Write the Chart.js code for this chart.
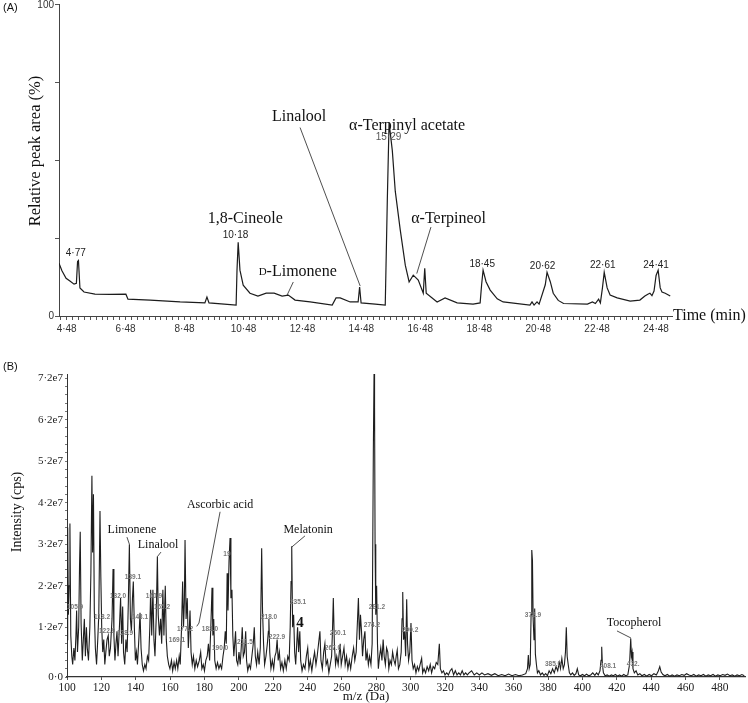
<!DOCTYPE html>
<html>
<head>
<meta charset="utf-8">
<script src="https://cdn.jsdelivr.net/npm/chart.js@4.4.0/dist/chart.umd.min.js"></script>
<style>
  body { margin: 0; background: #fff; width: 748px; height: 703px; position: relative; overflow: hidden; }
  canvas { position: absolute; left: 0; }
  #gc { top: 0; }
  #ms { top: 340px; }
</style>
</head>
<body>
<canvas id="gc" width="748" height="340"></canvas>
<canvas id="ms" width="748" height="363"></canvas>
<script>
// (A) chromatogram: retention time (min) / relative peak area (%)
const gcTime = [4.22, 4.32, 4.46, 4.59, 4.73, 4.81, 4.85, 4.88, 4.93, 5.07,
  5.44, 5.95, 6.49, 6.56, 7.31, 8.33, 9.17, 9.24, 9.31, 10.23,
  10.26, 10.30, 10.36, 10.47, 10.70, 10.97, 11.25, 11.52, 11.79, 12.00,
  12.23, 12.74, 13.49, 13.62, 13.76, 14.10, 14.37, 14.42, 14.47, 14.95,
  15.29, 15.36, 15.42, 15.53, 15.63, 15.80, 15.97, 16.10, 16.24, 16.41,
  16.58, 16.63, 16.68, 17.05, 17.32, 17.73, 18.27, 18.51, 18.56, 18.61,
  18.71, 18.85, 19.09, 19.29, 20.20, 20.27, 20.34, 20.44, 20.51, 20.72,
  20.78, 20.89, 20.99, 21.16, 21.34, 22.15, 22.32, 22.42, 22.53, 22.59,
  22.66, 22.72, 22.82, 22.92, 23.16, 23.60, 23.93, 24.10, 24.20, 24.27,
  24.34, 24.41, 24.48, 24.55, 24.62, 24.68, 24.79, 24.96];
const gcArea = [16.9, 14.5, 12.1, 11.2, 10.2, 10.5, 17.5, 17.8, 9.0, 7.7,
  7.0, 6.9, 7.0, 5.4, 5.1, 4.5, 4.2, 6.1, 4.2, 3.5,
  14.7, 23.6, 14.7, 9.9, 7.3, 6.4, 7.3, 7.3, 6.4, 6.7,
  5.1, 4.5, 3.5, 5.8, 5.8, 4.5, 4.5, 9.3, 4.2, 3.8,
  3.5, 37, 62, 53, 40, 27.5, 16.3, 10.9, 13.1, 11.5,
  7.3, 15.3, 7.3, 4.5, 5.8, 4.2, 3.8, 4.2, 10, 14.7,
  11, 8.3, 5.5, 4.5, 3.5, 4.5, 3.5, 4.5, 3.8, 10,
  14, 11, 7.3, 5.0, 4.0, 3.8, 4.5, 4.0, 5.4, 4.2,
  9, 14, 9, 6.7, 5.8, 4.8, 5.1, 6.4, 7.0, 7.3,
  6.5, 8, 13, 14.7, 9, 7.7, 7.3, 6.4];
const gcMajorTicks = [4.48, 6.48, 8.48, 10.48, 12.48, 14.48, 16.48, 18.48, 20.48, 22.48, 24.48];
const gcTickLabels = ['4·48', '6·48', '8·48', '10·48', '12·48', '14·48', '16·48', '18·48', '20·48', '22·48', '24·48'];
const gcYTicks = [0, 25, 50, 75, 100];
const gcYTickLabels = ['0', '', '', '', '100'];

// (B) mass spectrum: m/z (Da) / intensity (in units of 1e7 cps)
const msMz = [100, 100.4, 100.8, 101.3, 101.7, 102.2, 102.8, 103.3, 104.0, 104.6,
  105.2, 105.6, 106.1, 106.8, 107.3, 107.7, 108.2, 108.9, 109.5, 110.1,
  110.7, 111.3, 111.8, 112.5, 113.3, 113.9, 114.5, 114.9, 115.4, 115.9,
  116.5, 117.2, 117.9, 118.5, 119.2, 119.7, 120.2, 120.8, 121.4, 122.0,
  122.6, 123.3, 124.0, 124.6, 125.3, 126.2, 126.8, 127.3, 127.9, 128.5,
  129.1, 129.7, 130.5, 131.2, 131.8, 132.4, 132.9, 133.6, 134.3, 135.0,
  135.7, 136.3, 136.9, 137.5, 138.1, 138.6, 139.2, 139.8, 140.4, 141.0,
  141.8, 142.5, 143.1, 143.8, 144.5, 145.3, 146.0, 146.8, 147.5, 148.2,
  148.7, 149.3, 150.0, 150.6, 151.2, 151.9, 152.6, 153.1, 153.8, 154.5,
  155.1, 155.8, 156.4, 157.2, 157.8, 158.4, 159.2, 159.9, 160.8, 161.5,
  162.3, 163.0, 163.8, 164.5, 165.3, 165.9, 166.6, 167.3, 167.8, 168.3,
  168.7, 169.3, 170.0, 170.6, 171.2, 171.6, 172.2, 172.9, 173.6, 174.4,
  175.2, 176.0, 177.0, 177.8, 178.5, 179.3, 180.0, 180.8, 181.6, 182.3,
  183.0, 183.7, 184.4, 184.9, 185.4, 186.0, 186.8, 187.6, 188.4, 189.2,
  190.0, 190.8, 191.5, 192.1, 192.7, 193.2, 193.7, 194.3, 194.9, 195.4,
  196.0, 196.5, 197.1, 197.6, 198.1, 198.7, 199.4, 200.1, 200.8, 201.4,
  202.0, 202.6, 203.3, 204.0, 204.5, 205.2, 206.0, 206.8, 207.6, 208.4,
  209.0, 209.6, 210.3, 211.0, 211.8, 212.5, 213.3, 213.8, 214.4, 215.0,
  215.8, 216.6, 217.2, 217.5, 218.0, 218.7, 219.5, 220.3, 221.0, 221.7,
  222.3, 222.9, 223.6, 224.3, 225.1, 225.9, 226.8, 227.6, 228.5, 229.3,
  229.9, 230.4, 230.8, 231.3, 231.9, 232.5, 233.1, 233.7, 234.2, 234.8,
  235.5, 236.0, 236.8, 237.6, 238.5, 239.3, 240.1, 240.8, 241.6, 242.5,
  243.3, 244.1, 244.9, 245.6, 246.4, 247.2, 247.8, 248.6, 249.4, 250.1,
  250.8, 251.6, 252.4, 253.2, 254.0, 254.5, 255.0, 255.6, 256.3, 257.0,
  257.8, 258.5, 259.0, 259.6, 260.4, 261.2, 261.9, 262.7, 263.5, 264.3,
  265.1, 266.0, 266.8, 267.5, 268.3, 269.0, 269.6, 270.2, 270.8, 271.4,
  272.0, 272.7, 273.4, 274.0, 274.7, 275.4, 276.1, 276.9, 277.6, 278.3,
  278.7, 279.0, 279.3, 279.7, 280.2, 280.7, 281.2, 281.9, 282.6, 283.3,
  284.0, 284.6, 285.3, 286.0, 286.7, 287.3, 288.0, 288.8, 289.5, 290.3,
  291.0, 291.6, 292.2, 292.9, 293.7, 294.5, 295.0, 295.4, 295.9, 296.5,
  297.1, 297.7, 298.2, 298.8, 299.5, 300.2, 300.8, 301.5, 302.3, 303.1,
  303.9, 304.7, 305.5, 306.4, 307.0, 307.8, 308.7, 309.6, 310.5, 311.4,
  312.2, 313.1, 314.0, 314.9, 315.8, 316.7, 317.3, 318.2, 319.1, 320.0,
  321, 322, 323, 324, 325, 326, 327, 328, 329, 330,
  331, 332, 333, 334, 335.5, 337, 338.5, 340, 341.5, 343,
  345, 347, 349, 351, 353, 355, 357, 359, 361, 363,
  365, 367, 368, 368.5, 369, 369.6, 370.1, 370.5, 370.9, 371.3,
  371.8, 372.2, 372.6, 373.2, 373.8, 374.6, 375.6, 376.6, 377.6, 378.6,
  379.6, 380.6, 381.6, 382.6, 383.6, 384.6, 385.6, 386.5, 387.2, 388.0,
  388.8, 389.5, 390.1, 390.6, 391.1, 391.7, 392.4, 393.2, 394.2, 395.2,
  396.2, 397.0, 397.8, 398.8, 400.0, 401.2, 402.4, 403.6, 404.8, 406.0,
  407.2, 408.2, 409.2, 410.2, 410.8, 411.2, 411.6, 412.2, 413.2, 414.4,
  415.6, 416.8, 418.0, 419.2, 420.4, 421.6, 422.8, 424.0, 425.2, 426.4,
  427.4, 428.1, 428.5, 428.9, 429.4, 430.2, 431.2, 432.2, 433.4, 434.6,
  436.0, 437.4, 438.8, 440.2, 441.6, 443.0, 444.2, 445.0, 445.8, 446.8,
  448.0, 449.4, 450.8, 452.2, 453.6, 455.0, 456.4, 457.8, 459.2, 460.6,
  462.0, 463.4, 464.8, 466.2, 467.6, 469.0, 470.4, 471.8, 473.2, 474.6,
  476.0, 477.4, 478.8, 480.2, 481.6, 483.0, 484.4, 485.8, 487.2, 488.6,
  490.0, 491.4, 492.8, 494.2];
const msIntensity = [0.9, 3.6, 1.5, 2.2, 3.7, 1.0, 0.5, 0.3, 0.7, 0.4,
  1.0, 1.6, 0.6, 1.2, 2.7, 3.5, 1.3, 0.4, 0.9, 1.4,
  0.5, 1.2, 0.7, 0.4, 1.2, 2.5, 4.85, 3.0, 4.4, 1.6,
  0.7, 0.3, 0.9, 1.5, 4.0, 2.4, 1.2, 0.6, 0.9, 0.3,
  0.6, 0.9, 1.0, 0.5, 0.7, 1.4, 2.6, 1.0, 0.4, 0.8,
  1.1, 0.5, 1.2, 1.9, 0.8, 1.7, 0.6, 0.3, 0.9, 0.6,
  1.8, 3.2, 1.4, 1.1, 1.9, 2.3, 1.2, 0.4, 0.6, 0.3,
  0.9, 1.55, 0.7, 0.3, 0.15, 0.3, 0.2, 0.5, 0.4, 1.2,
  2.1, 1.0, 2.1, 0.9, 0.5, 1.4, 2.9, 1.5, 1.0, 1.4,
  0.8, 2.1, 1.0, 2.2, 0.9, 0.5, 0.3, 0.2, 0.4, 0.15,
  0.35, 0.2, 0.4, 0.2, 0.5, 0.3, 1.1, 2.3, 1.2, 1.8,
  3.3, 1.4, 1.9, 0.7, 1.2, 1.6, 0.6, 0.3, 0.5, 0.2,
  0.4, 0.25, 0.4, 0.6, 0.2, 0.3, 0.15, 0.4, 0.5, 0.8,
  0.4, 1.2, 2.15, 1.0, 1.4, 0.4, 0.2, 0.35, 0.2, 0.3,
  0.2, 0.5, 0.7, 1.1, 0.8, 2.5, 1.6, 2.8, 3.35, 1.9,
  2.1, 1.0, 0.5, 0.8, 1.1, 0.4, 0.3, 0.6, 0.3, 0.7,
  1.2, 0.5, 0.6, 1.1, 0.4, 0.15, 0.3, 0.2, 0.5, 0.8,
  1.2, 0.5, 0.3, 0.6, 0.3, 0.7, 3.1, 1.6, 0.8, 0.3,
  0.5, 0.8, 1.1, 1.4, 0.6, 0.2, 0.4, 0.2, 0.5, 0.6,
  0.9, 0.4, 0.6, 0.2, 0.35, 0.15, 0.4, 0.2, 0.5, 0.4,
  1.2, 2.3, 3.15, 1.2, 1.5, 0.6, 0.3, 0.8, 1.2, 0.6,
  1.1, 0.4, 0.15, 0.3, 0.2, 0.5, 0.7, 0.2, 0.4, 0.15,
  0.4, 0.6, 0.3, 0.5, 0.8, 1.1, 0.4, 0.2, 0.6, 0.8,
  0.3, 0.4, 0.1, 0.3, 0.5, 1.1, 1.9, 0.8, 0.3, 0.5,
  0.3, 0.6, 0.8, 0.3, 0.5, 0.7, 0.3, 0.5, 0.2, 0.4,
  0.2, 0.5, 0.7, 0.4, 0.6, 1.3, 1.9, 0.9, 1.5, 1.1,
  0.5, 0.9, 1.1, 0.4, 0.6, 0.3, 0.5, 0.3, 0.8, 5.5,
  7.3, 6.5, 3.2, 1.5, 2.2, 0.8, 0.2, 0.5, 0.7, 0.4,
  0.9, 0.5, 0.3, 0.7, 0.6, 0.2, 0.4, 0.3, 0.6, 0.4,
  0.3, 0.5, 0.65, 0.2, 0.3, 0.6, 1.4, 2.05, 0.9, 1.1,
  0.5, 1.87, 0.8, 0.4, 0.6, 1.3, 0.4, 0.2, 0.3, 0.1,
  0.25, 0.15, 0.3, 0.45, 0.1, 0.2, 0.1, 0.25, 0.15, 0.3,
  0.1, 0.25, 0.2, 0.35, 0.3, 0.8, 0.2, 0.1, 0.15, 0.05,
  0.1, 0.05, 0.15, 0.2, 0.05, 0.15, 0.05, 0.1, 0.05, 0.15,
  0.05, 0.1, 0.05, 0.1, 0.15, 0.05, 0.1, 0.05, 0.1, 0.05,
  0.08, 0.04, 0.08, 0.03, 0.06, 0.03, 0.07, 0.03, 0.06, 0.03,
  0.05, 0.08, 0.2, 0.53, 0.2, 0.3, 1.5, 3.06, 2.8, 1.4,
  0.9, 1.65, 0.55, 0.3, 0.1, 0.15, 0.05, 0.1, 0.04, 0.08,
  0.03, 0.15, 0.08, 0.2, 0.1, 0.25, 0.15, 0.35, 0.2, 0.45,
  0.2, 0.3, 0.6, 1.2, 0.5, 0.3, 0.1, 0.05, 0.1, 0.04,
  0.08, 0.2, 0.05, 0.03, 0.06, 0.03, 0.07, 0.03, 0.05, 0.1,
  0.04, 0.1, 0.05, 0.15, 0.4, 0.73, 0.3, 0.1, 0.03, 0.05,
  0.02, 0.05, 0.03, 0.06, 0.02, 0.05, 0.02, 0.06, 0.03, 0.05,
  0.3, 0.93, 0.5, 0.6, 0.2, 0.1, 0.15, 0.05, 0.08, 0.03,
  0.06, 0.02, 0.06, 0.03, 0.08, 0.05, 0.15, 0.25, 0.12, 0.06,
  0.03, 0.06, 0.02, 0.05, 0.02, 0.05, 0.03, 0.06, 0.04, 0.08,
  0.05, 0.03, 0.06, 0.02, 0.05, 0.03, 0.06, 0.02, 0.05, 0.03,
  0.06, 0.02, 0.05, 0.03, 0.06, 0.04, 0.07, 0.03, 0.05, 0.02,
  0.05, 0.03, 0.06, 0.03];
const msXTicks = [100, 120, 140, 160, 180, 200, 220, 240, 260, 280, 300, 320, 340, 360, 380, 400, 420, 440, 460, 480];
const msYLabelValues = [0, 1.2, 2.2, 3.2, 4.2, 5.2, 6.2, 7.2];
const msYTickLabels = ['0·0', '1·2e7', '2·2e7', '3·2e7', '4·2e7', '5·2e7', '6·2e7', '7·2e7'];

const SANS = '"Liberation Sans", Arial, sans-serif';
const SERIF = '"Liberation Serif", "Times New Roman", serif';

// minor tick positions (every 0.2 min / 0.2e7)
const gcMinor = [];
for (let i = -1; 4.48 + i * 0.2 < 25.02; i++) gcMinor.push(+(4.48 + i * 0.2).toFixed(2));
const msYMinor = [];
for (let i = 0; i <= 36; i++) msYMinor.push(i / 5);

function labelOf(values, labels, v) {
  const i = values.findIndex(m => Math.abs(m - v) < 1e-6);
  return i < 0 ? '' : labels[i];
}

// draws callouts, leader lines and free text
const notesPlugin = {
  id: 'notes',
  afterDraw(chart, args, opts) {
    const ctx = chart.ctx, xs = chart.scales.x, ys = chart.scales.y;
    ctx.save();
    ctx.strokeStyle = '#222';
    ctx.lineWidth = 0.8;
    (opts.leaders || []).forEach(p => {
      ctx.beginPath();
      for (let i = 0; i < p.length; i += 2) {
        const px = xs.getPixelForValue(p[i]), py = ys.getPixelForValue(p[i + 1]);
        if (i) ctx.lineTo(px, py); else ctx.moveTo(px, py);
      }
      ctx.stroke();
    });
    ctx.textBaseline = 'middle';
    ctx.textAlign = 'left';
    (opts.labels || []).forEach(n => {
      const px = n.px != null ? n.px : xs.getPixelForValue(n.x);
      const py = n.py != null ? n.py : ys.getPixelForValue(n.y);
      const parts = n.parts || [[n.text, n.font]];
      ctx.save();
      ctx.fillStyle = n.color || '#111';
      ctx.translate(px, py);
      if (n.rotate) ctx.rotate(n.rotate);
      let w = 0;
      parts.forEach(pt => { ctx.font = pt[1]; w += ctx.measureText(pt[0]).width; });
      let x0 = n.align === 'left' ? 0 : (n.align === 'right' ? -w : -w / 2);
      parts.forEach(pt => { ctx.font = pt[1]; ctx.fillText(pt[0], x0, 0); x0 += ctx.measureText(pt[0]).width; });
      ctx.restore();
    });
    ctx.restore();
  }
};

const s10 = '10px ' + SANS, f16 = '16px ' + SERIF, f12 = '12px ' + SERIF, tiny = 'bold 6.5px ' + SANS;

new Chart(document.getElementById('gc'), {
  type: 'line',
  data: {
    datasets: [{
      data: gcTime.map((t, i) => ({ x: t, y: gcArea[i] })),
      borderColor: '#1c1c1c', borderWidth: 1.2, pointRadius: 0, tension: 0, fill: false
    }]
  },
  options: {
    responsive: false, animation: false, devicePixelRatio: 1,
    layout: { padding: { left: 0, right: 76, top: 4, bottom: 0 } },
    plugins: {
      legend: { display: false }, tooltip: { enabled: false },
      notes: {
        leaders: [[12.40, 60.4, 14.44, 9.6], [12.17, 10.9, 11.96, 6.7], [16.84, 28.5, 16.36, 13.6]],
        labels: [
          { px: 3, py: 8, text: '(A)', font: '11px ' + SANS, align: 'left' },
          { px: 54, py: 5, text: '100', font: s10, color: '#333', align: 'right' },
          { px: 36, py: 151, text: 'Relative peak area (%)', font: '16.5px ' + SERIF, rotate: -Math.PI / 2 },
          { px: 673, py: 316, text: 'Time (min)', font: f16, align: 'left' },
          { x: 4.79, y: 20.1, text: '4·77', font: s10, color: '#222' },
          { x: 10.54, y: 31.3, text: '1,8-Cineole', font: f16 },
          { x: 10.21, y: 25.9, text: '10·18', font: s10, color: '#222' },
          { x: 12.37, y: 63.9, text: 'Linalool', font: f16 },
          { x: 12.32, y: 14.1, parts: [['D', '11px ' + SERIF], ['-Limonene', f16]] },
          { x: 16.03, y: 61.0, text: 'α-Terpinyl acetate', font: f16 },
          { x: 15.40, y: 57.2, text: '15·29', font: s10, color: '#555' },
          { x: 17.44, y: 31.3, text: 'α-Terpineol', font: f16 },
          { x: 18.58, y: 16.6, text: '18·45', font: s10, color: '#222' },
          { x: 20.63, y: 15.8, text: '20·62', font: s10, color: '#222' },
          { x: 22.67, y: 16.3, text: '22·61', font: s10, color: '#222' },
          { x: 24.48, y: 16.3, text: '24·41', font: s10, color: '#222' }
        ]
      }
    },
    scales: {
      x: {
        type: 'linear', min: 4.22, max: 25.02,
        afterBuildTicks: s => { s.ticks = gcMinor.map(v => ({ value: v })); },
        afterFit: s => { s.height = 24; s.paddingLeft = 0; s.paddingRight = 0; },
        ticks: {
          autoSkip: false, maxRotation: 0, padding: 3, color: '#333',
          font: { family: SANS, size: 10 },
          callback: v => labelOf(gcMajorTicks, gcTickLabels, v)
        },
        grid: { drawOnChartArea: false, tickLength: 4, color: '#555' },
        border: { color: '#444', width: 1 }
      },
      y: {
        min: 0, max: 100,
        afterBuildTicks: s => { s.ticks = gcYTicks.map(v => ({ value: v })); },
        afterFit: s => { s.width = 59; s.paddingTop = 0; s.paddingBottom = 0; },
        ticks: {
          autoSkip: false, padding: 1, color: '#333',
          font: { family: SANS, size: 10 },
          // the top label is drawn by the notes plugin so it is not clipped
          callback: v => (v === 100 ? '' : labelOf(gcYTicks, gcYTickLabels, v))
        },
        grid: { drawOnChartArea: false, tickLength: 4, color: '#555' },
        border: { color: '#444', width: 1 }
      }
    }
  },
  plugins: [notesPlugin]
});

new Chart(document.getElementById('ms'), {
  type: 'line',
  data: {
    datasets: [{
      data: msMz.map((m, i) => ({ x: m, y: msIntensity[i] })),
      borderColor: '#1e1e1e', borderWidth: 1.1, pointRadius: 0, tension: 0, fill: false
    }]
  },
  options: {
    responsive: false, animation: false, devicePixelRatio: 1,
    layout: { padding: { left: 0, right: 3, top: 34, bottom: 0 } },
    plugins: {
      legend: { display: false }, tooltip: { enabled: false },
      notes: {
        leaders: [[134.9, 3.37, 136.3, 3.2], [154.7, 3.01, 152.6, 2.9], [189.1, 3.98, 176.8, 1.3, 175.5, 1.22],
          [238.5, 3.40, 230.8, 3.13], [420.1, 1.11, 428.2, 0.94]],
        labels: [
          { px: 3, py: 27, text: '(B)', font: '11px ' + SANS, align: 'left' },
          { px: 17.5, py: 172, text: 'Intensity (cps)', font: '14px ' + SERIF, rotate: -Math.PI / 2 },
          { px: 366, py: 357, text: 'm/z (Da)', font: '13px ' + SERIF },
          { x: 137.8, y: 3.54, text: 'Limonene', font: f12 },
          { x: 153.0, y: 3.18, text: 'Linalool', font: f12 },
          { x: 189.1, y: 4.14, text: 'Ascorbic acid', font: f12 },
          { x: 240.3, y: 3.54, text: 'Melatonin', font: f12 },
          { x: 430.0, y: 1.30, text: 'Tocopherol', font: f12 },
          { x: 235.6, y: 1.30, text: '4', font: 'bold 15px ' + SERIF },
          { x: 104.7, y: 1.69, text: '105.9', font: tiny, color: '#777' },
          { x: 120.4, y: 1.45, text: '118.2', font: tiny, color: '#777' },
          { x: 123.3, y: 1.11, text: '122.9', font: tiny, color: '#777' },
          { x: 129.7, y: 1.95, text: '132.0', font: tiny, color: '#777' },
          { x: 133.8, y: 1.06, text: '128.9', font: tiny, color: '#777' },
          { x: 138.4, y: 2.41, text: '139.1', font: tiny, color: '#777' },
          { x: 142.5, y: 1.45, text: '143.1', font: tiny, color: '#777' },
          { x: 150.6, y: 1.95, text: '160.9', font: tiny, color: '#777' },
          { x: 155.3, y: 1.69, text: '165.2', font: tiny, color: '#777' },
          { x: 164.0, y: 0.89, text: '169.1', font: tiny, color: '#777' },
          { x: 168.7, y: 1.16, text: '177.2', font: tiny, color: '#777' },
          { x: 183.2, y: 1.16, text: '183.0', font: tiny, color: '#777' },
          { x: 189.1, y: 0.70, text: '190.0', font: tiny, color: '#777' },
          { x: 193.1, y: 2.96, text: '19', font: tiny, color: '#777' },
          { x: 203.6, y: 0.84, text: '211.5', font: tiny, color: '#777' },
          { x: 217.6, y: 1.45, text: '218.0', font: tiny, color: '#777' },
          { x: 222.2, y: 0.96, text: '222.9', font: tiny, color: '#777' },
          { x: 234.5, y: 1.81, text: '235.1', font: tiny, color: '#777' },
          { x: 257.7, y: 1.06, text: '260.1', font: tiny, color: '#777' },
          { x: 254.8, y: 0.70, text: '267.0', font: tiny, color: '#777' },
          { x: 277.5, y: 1.25, text: '274.2', font: tiny, color: '#777' },
          { x: 280.4, y: 1.69, text: '281.2', font: tiny, color: '#777' },
          { x: 299.7, y: 1.13, text: '290.2', font: tiny, color: '#777' },
          { x: 371.2, y: 1.49, text: '372.9', font: tiny, color: '#777' },
          { x: 382.9, y: 0.31, text: '385.0', font: tiny, color: '#777' },
          { x: 414.9, y: 0.27, text: '408.1', font: tiny, color: '#777' },
          { x: 429.5, y: 0.31, text: '432.', font: tiny, color: '#777' }
        ]
      }
    },
    scales: {
      x: {
        type: 'linear', min: 100, max: 494.6,
        afterBuildTicks: s => { s.ticks = msXTicks.map(v => ({ value: v })); },
        afterFit: s => { s.height = 26; s.paddingLeft = 0; s.paddingRight = 0; },
        ticks: {
          autoSkip: false, maxRotation: 0, padding: 1, color: '#222',
          font: { family: SERIF, size: 11.5 }
        },
        grid: { drawOnChartArea: false, tickLength: 3, color: '#555' },
        border: { color: '#333', width: 1.2 }
      },
      y: {
        min: 0, max: 7.3,
        afterBuildTicks: s => { s.ticks = msYMinor.map(v => ({ value: v })); },
        afterFit: s => { s.width = 67; s.paddingTop = 0; s.paddingBottom = 0; },
        ticks: {
          autoSkip: false, padding: 2, color: '#222',
          font: { family: SERIF, size: 11 },
          callback: v => labelOf(msYLabelValues, msYTickLabels, v)
        },
        grid: { drawOnChartArea: false, tickLength: 2, color: '#777' },
        border: { color: '#333', width: 1 }
      }
    }
  },
  plugins: [notesPlugin]
});
</script>
</body>
</html>
